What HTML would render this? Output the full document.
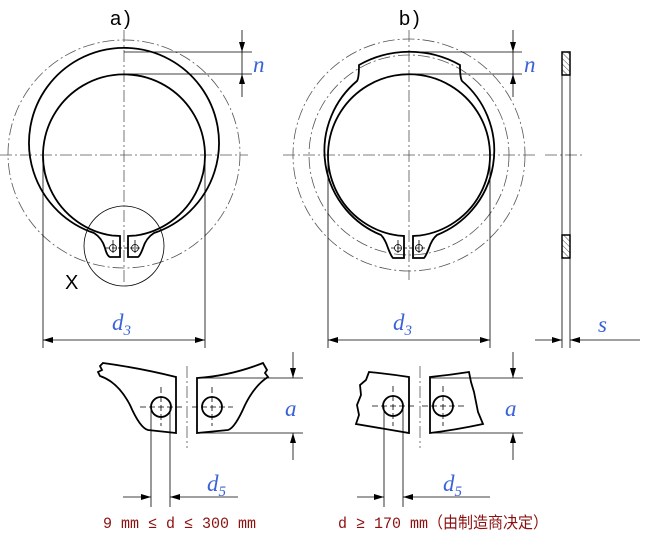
<!DOCTYPE html>
<html><head><meta charset="utf-8"><style>
html,body{margin:0;padding:0;background:#fff;width:650px;height:534px;overflow:hidden}
svg{display:block}
.t{fill:none;stroke:#000;stroke-width:1.8}
.m{fill:none;stroke:#000;stroke-width:0.8}
.c{fill:none;stroke:#555;stroke-width:0.8;stroke-dasharray:12 3 2 3}
.h{fill:none;stroke:#000;stroke-width:0.8;stroke-dasharray:6 3}
.lbl{font-family:"Liberation Serif",serif;font-style:italic;fill:#3a62d8;font-size:23px}
.sub{font-size:15px}
.red{font-family:"Liberation Mono","Noto Sans CJK SC",monospace;fill:#8b1010;font-size:16px}
.hd{font-family:"Liberation Sans",sans-serif;font-size:20px;fill:#000}
</style></head><body>
<svg width="650" height="534" viewBox="0 0 650 534" xmlns="http://www.w3.org/2000/svg">
<defs>
<marker id="ar" viewBox="0 0 10 6" refX="10" refY="3" markerWidth="10" markerHeight="6" orient="auto" markerUnits="userSpaceOnUse"><path d="M0,0 L10,3 L0,6 z" fill="#000"/></marker>
<pattern id="hat" width="4" height="4" patternUnits="userSpaceOnUse" patternTransform="rotate(-45)"><line x1="0" y1="0" x2="0" y2="4" stroke="#000" stroke-width="0.7"/></pattern>
</defs>

<text class="hd" x="110" y="25">a</text><text class="hd" x="124" y="25">)</text>
<text class="hd" x="399" y="25">b</text><text class="hd" x="413" y="25">)</text>
<text class="hd" x="65" y="289" font-size="19">X</text>

<!-- Figure a -->
<ellipse class="c" cx="124" cy="154" rx="116" ry="114"/>
<circle class="m" cx="124" cy="246" r="40" stroke="#666"/>
<line class="c" x1="124" y1="30" x2="124" y2="285"/>
<line class="c" x1="0" y1="155" x2="248" y2="155"/>
<path class="t" d="M94,233 A95,95 0 1 1 154,233 Q146,238 143,248 Q140,256 138,257 L128,257 L128,236 L136,235.5 A81,81 0 1 0 112,235.5 L120,236 L120,257 L110,257 Q107,256 105,248 Q102,238 94,233 Z"/>
<circle class="m" cx="113" cy="248" r="3.5" stroke-width="1.1"/>
<circle class="m" cx="135" cy="248" r="3.5" stroke-width="1.1"/>
<line class="m" x1="106" y1="248" x2="142" y2="248" stroke-dasharray="4 2"/>
<line class="m" x1="113" y1="240" x2="113" y2="253"/>
<line class="m" x1="135" y1="240" x2="135" y2="253"/>
<line class="m" x1="124" y1="52" x2="252" y2="52"/>
<line class="m" x1="124" y1="74" x2="252" y2="74"/>
<line class="m" x1="242" y1="30" x2="242" y2="52" marker-end="url(#ar)"/>
<line class="m" x1="242" y1="97" x2="242" y2="74" marker-end="url(#ar)"/>
<line class="m" x1="242" y1="52" x2="242" y2="74"/>
<text class="lbl" x="253" y="72">n</text>
<line class="m" x1="43" y1="160" x2="43" y2="348"/>
<line class="m" x1="205" y1="160" x2="205" y2="348"/>
<line class="m" x1="124" y1="340" x2="43" y2="340" marker-end="url(#ar)"/>
<line class="m" x1="124" y1="340" x2="205" y2="340" marker-end="url(#ar)"/>
<text class="lbl" x="112" y="330">d<tspan class="sub" dy="5">3</tspan></text>

<!-- Figure b -->
<circle class="c" cx="409" cy="155" r="116"/>
<circle class="c" cx="409" cy="155" r="100"/>
<line class="c" x1="409" y1="30" x2="409" y2="280"/>
<line class="c" x1="283" y1="155" x2="535" y2="155"/>
<line class="c" x1="545" y1="155" x2="585" y2="155"/>
<path class="t" d="M381,235 A91,91 0 0 1 357,81 Q359,78 359,65 A103,103 0 0 1 460,65 Q460,78 462,81 A91,91 0 0 1 437,235 Q432,239 429,248 Q426,256 424,258 L413,258 L413,236 L420,235.5 A81,81 0 1 0 398,235.5 L404,236 L404,258 L393,258 Q391,256 388,248 Q385,239 381,235 Z"/>
<circle class="m" cx="398" cy="248" r="3.5" stroke-width="1.1"/>
<circle class="m" cx="419" cy="248" r="3.5" stroke-width="1.1"/>
<line class="m" x1="391" y1="248" x2="426" y2="248" stroke-dasharray="4 2"/>
<line class="m" x1="398" y1="240" x2="398" y2="253"/>
<line class="m" x1="419" y1="240" x2="419" y2="253"/>
<line class="m" x1="409" y1="52" x2="522" y2="52"/>
<line class="m" x1="409" y1="74" x2="522" y2="74"/>
<line class="m" x1="513" y1="30" x2="513" y2="52" marker-end="url(#ar)"/>
<line class="m" x1="513" y1="97" x2="513" y2="74" marker-end="url(#ar)"/>
<line class="m" x1="513" y1="52" x2="513" y2="74"/>
<text class="lbl" x="524" y="72">n</text>
<line class="m" x1="328" y1="160" x2="328" y2="348"/>
<line class="m" x1="490" y1="160" x2="490" y2="348"/>
<line class="m" x1="409" y1="340" x2="328" y2="340" marker-end="url(#ar)"/>
<line class="m" x1="409" y1="340" x2="490" y2="340" marker-end="url(#ar)"/>
<text class="lbl" x="393" y="330">d<tspan class="sub" dy="5">3</tspan></text>

<!-- side view -->
<rect x="562" y="75" width="8" height="160" class="m" stroke-width="1.2"/>
<rect x="562" y="52" width="8" height="23" fill="url(#hat)" stroke="#000" stroke-width="1.5"/>
<rect x="562" y="235" width="8" height="23" fill="url(#hat)" stroke="#000" stroke-width="1.5"/>
<line class="m" x1="562" y1="258" x2="562" y2="348"/>
<line class="m" x1="570" y1="258" x2="570" y2="348"/>
<line class="m" x1="535" y1="340" x2="562" y2="340" marker-end="url(#ar)"/>
<line class="m" x1="640" y1="340" x2="570" y2="340" marker-end="url(#ar)"/>
<text class="lbl" x="598" y="332">s</text>

<!-- Detail left -->
<path class="t" stroke-width="1.3" d="M103,363 Q140,368 176,377 L176,433 L148,430 Q140,428 130,405 Q118,382 100,376 L98,372 L102,370 L100,366 Z"/>
<path class="t" stroke-width="1.3" d="M197,378 Q230,376 263,363 L267,370 L265,373 L268,377 Q255,385 245,405 Q235,428 228,430 L197,433 Z"/>
<line class="c" x1="187" y1="366" x2="187" y2="448"/>
<circle class="t" stroke-width="1.3" cx="161" cy="407" r="10"/>
<circle class="t" stroke-width="1.3" cx="212" cy="407" r="10"/>
<line class="h" x1="140" y1="407" x2="182" y2="407"/>
<line class="h" x1="161" y1="387" x2="161" y2="426"/>
<line class="h" x1="192" y1="407" x2="233" y2="407"/>
<line class="h" x1="212" y1="387" x2="212" y2="426"/>
<line class="m" x1="197" y1="378" x2="303" y2="378"/>
<line class="m" x1="197" y1="433" x2="303" y2="433"/>
<line class="m" x1="293" y1="352" x2="293" y2="378" marker-end="url(#ar)"/>
<line class="m" x1="293" y1="460" x2="293" y2="433" marker-end="url(#ar)"/>
<text class="lbl" x="285" y="416">a</text>
<line class="m" x1="151" y1="407" x2="151" y2="507"/>
<line class="m" x1="170" y1="407" x2="170" y2="507"/>
<line class="m" x1="123" y1="497" x2="151" y2="497" marker-end="url(#ar)"/>
<line class="m" x1="238" y1="497" x2="170" y2="497" marker-end="url(#ar)"/>
<text class="lbl" x="207" y="491">d<tspan class="sub" dy="5">5</tspan></text>

<!-- Detail right -->
<path class="t" stroke-width="1.3" d="M369,372 Q390,374 409,377 L409,433 Q380,428 356,424 L359,415 L357,405 L361,395 L360,385 L366,380 Z"/>
<path class="t" stroke-width="1.3" d="M430,377 Q450,375 469,372 L471,382 L474,392 L476,402 L478,412 L483,424 Q455,430 430,433 Z"/>
<line class="c" x1="420" y1="366" x2="420" y2="448"/>
<circle class="t" stroke-width="1.3" cx="393" cy="406" r="10"/>
<circle class="t" stroke-width="1.3" cx="443" cy="406" r="10"/>
<line class="h" x1="372" y1="406" x2="414" y2="406"/>
<line class="h" x1="393" y1="386" x2="393" y2="426"/>
<line class="h" x1="422" y1="406" x2="464" y2="406"/>
<line class="h" x1="443" y1="386" x2="443" y2="426"/>
<line class="m" x1="430" y1="378" x2="523" y2="378"/>
<line class="m" x1="430" y1="433" x2="523" y2="433"/>
<line class="m" x1="513" y1="352" x2="513" y2="378" marker-end="url(#ar)"/>
<line class="m" x1="513" y1="460" x2="513" y2="433" marker-end="url(#ar)"/>
<text class="lbl" x="505" y="416">a</text>
<line class="m" x1="384" y1="406" x2="384" y2="507"/>
<line class="m" x1="403" y1="406" x2="403" y2="507"/>
<line class="m" x1="357" y1="497" x2="384" y2="497" marker-end="url(#ar)"/>
<line class="m" x1="490" y1="497" x2="403" y2="497" marker-end="url(#ar)"/>
<text class="lbl" x="443" y="491">d<tspan class="sub" dy="5">5</tspan></text>

<text class="red" x="103" y="528" textLength="153" lengthAdjust="spacingAndGlyphs">9 mm ≤ d ≤ 300 mm</text>
<text class="red" x="338" y="528" textLength="210" lengthAdjust="spacingAndGlyphs">d ≥ 170 mm（由制造商决定）</text>
</svg>
</body></html>
